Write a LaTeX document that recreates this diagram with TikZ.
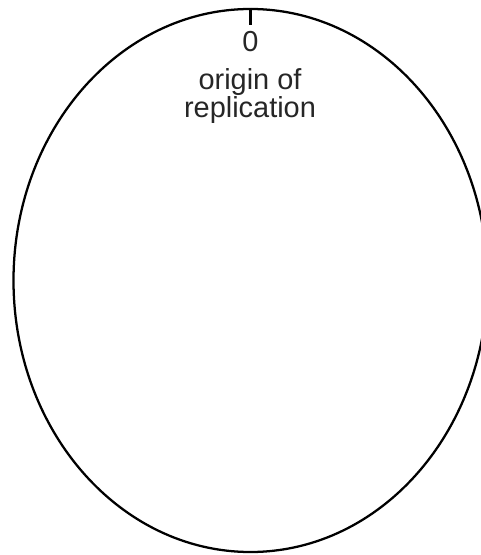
\documentclass[tikz,border=0pt]{standalone}
\usepackage{fontspec}
\setmainfont{Liberation Sans}
\usetikzlibrary{shapes.geometric}
\begin{document}
\begin{tikzpicture}[x=0.75pt,y=-0.75pt,
  outline/.style={draw=black,line width=1.7pt},
  label/.style={font=\fontsize{21.7pt}{26pt}\selectfont,text=black!85,inner sep=0pt,anchor=base}]
\useasboundingbox (0,0) rectangle (480,555);
\node[ellipse,outline,inner sep=0pt,minimum width=355.5pt,minimum height=407.25pt] (chrom) at (250.5,280.5) {};
\coordinate (tickBot) at (250.5,25);
\draw[outline] (chrom.north) -- (tickBot);
\node[label] (zero) at (250.5,52) {0};
\node[label] (orig) at (250,90) {origin of};
\node[label] (repl) at (250,118) {replication};
\end{tikzpicture}
\end{document}
